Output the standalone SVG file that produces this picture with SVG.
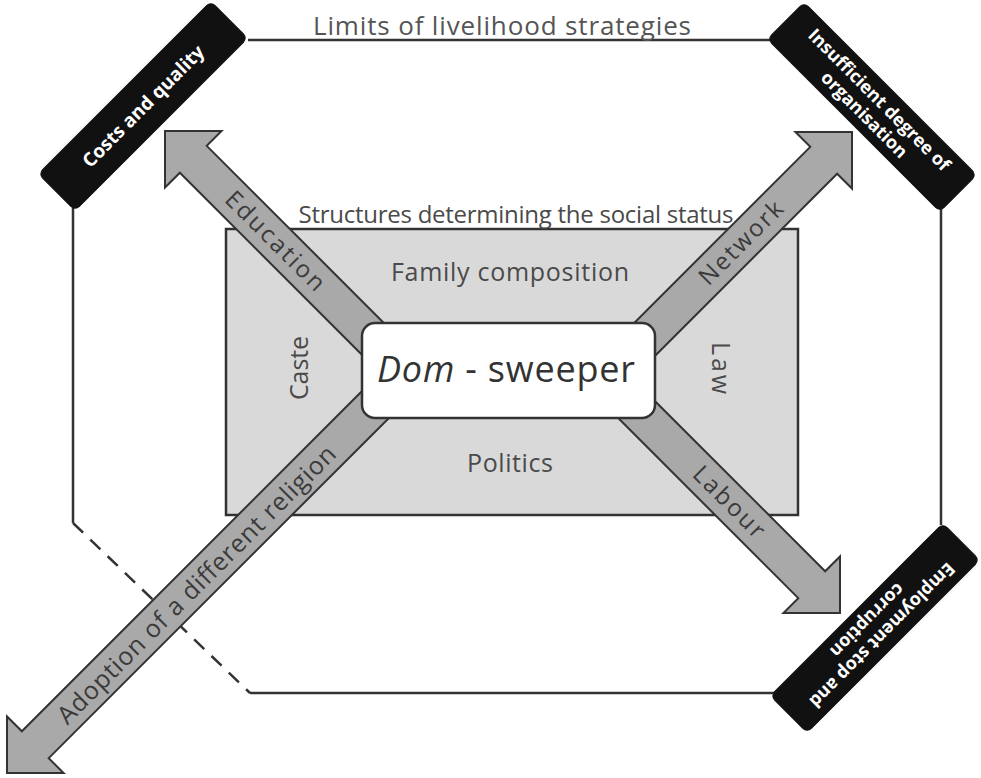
<svg xmlns="http://www.w3.org/2000/svg" width="981" height="778" viewBox="0 0 981 778">
<defs>
<style>
.frame{fill:none;stroke:#333;stroke-width:2.5}
.dash{fill:none;stroke:#333;stroke-width:2.5;stroke-dasharray:14 10}
.arrow{fill:#a9a9a9;stroke:#333;stroke-width:2;stroke-linejoin:miter}
.blk{fill:#111;stroke:#111;stroke-width:1}
.wt{fill:#fff;font-family:"Open Sans","Liberation Sans",sans-serif;font-weight:bold;font-size:19px;text-anchor:middle}
.gt{fill:#4a4a4a;font-family:"Open Sans","Liberation Sans",sans-serif;font-size:25px;text-anchor:middle}
.at{fill:#3a3a3a;font-family:"Open Sans","Liberation Sans",sans-serif;font-size:24px;text-anchor:middle}
</style>
</defs>
<rect width="981" height="778" fill="#fff"/>

<g id="connectors">
<path class="frame" d="M248,40 H770"/>
<path class="frame" d="M73,208 V523"/>
<path class="dash" d="M73,523 L250,693"/>
<path class="frame" d="M250,693 H775"/>
<path class="frame" d="M941,209 V525"/>
</g>
<text class="gt" x="502" y="35" textLength="378" lengthAdjust="spacing" style="fill:#555;font-size:26px">Limits of livelihood strategies</text>

<g id="structures">
<rect x="226" y="229" width="572" height="286" fill="#d9d9d9" stroke="#333" stroke-width="2.5"/>
<text class="gt" x="516" y="223" textLength="435" lengthAdjust="spacing" style="font-size:24px">Structures determining the social status</text>
<text class="gt" x="510" y="281" textLength="238" lengthAdjust="spacing">Family composition</text>
<text class="gt" x="510" y="472" textLength="86" lengthAdjust="spacing">Politics</text>
<text class="gt" transform="translate(308,368) rotate(-90)" textLength="64" lengthAdjust="spacing">Caste</text>
<text class="gt" transform="translate(712,368) rotate(90)" textLength="52" lengthAdjust="spacing">Law</text>
</g>

<g id="arrow-education">
<polygon class="arrow" transform="translate(165,131) rotate(225)" points="0,0 -40,-40 -40,-19 -300,-19 -300,19 -40,19 -40,40"/>
<text class="at" transform="translate(275,241) rotate(45)" y="8" textLength="130" lengthAdjust="spacing">Education</text>
</g>
<g id="arrow-network">
<polygon class="arrow" transform="translate(852,132) rotate(-45)" points="0,0 -40,-40 -40,-19 -300,-19 -300,19 -40,19 -40,40"/>
<text class="at" transform="translate(741,243) rotate(-45)" y="8" textLength="108" lengthAdjust="spacing">Network</text>
</g>
<g id="arrow-labour">
<polygon class="arrow" transform="translate(840,613) rotate(45)" points="0,0 -40,-40 -40,-19 -300,-19 -300,19 -40,19 -40,40"/>
<text class="at" transform="translate(729,502) rotate(45)" y="8" textLength="91" lengthAdjust="spacing">Labour</text>
</g>
<g id="arrow-religion">
<polygon class="arrow" transform="translate(7,773) rotate(135)" points="0,0 -40,-40 -40,-19 -535,-19 -535,19 -40,19 -40,40"/>
<text class="at" transform="translate(197,585) rotate(-45)" y="8" textLength="382" lengthAdjust="spacing" style="font-size:25px">Adoption of a different religion</text>
</g>

<g id="dom-sweeper">
<rect x="362" y="323" width="293" height="95" rx="13" fill="#fff" stroke="#333" stroke-width="2.5"/>
<text x="506" y="382" font-family="'Open Sans','Liberation Sans',sans-serif" font-size="36" fill="#333" text-anchor="middle" textLength="258" lengthAdjust="spacing"><tspan font-style="italic">Dom</tspan> - sweeper</text>
</g>

<g id="costs-quality">
<rect class="blk" x="-122" y="-26" width="244" height="52" rx="6" transform="translate(143,106) rotate(-45)"/>
<text class="wt" transform="translate(143,106) rotate(-45)" y="7">Costs and quality</text>
</g>
<g id="insufficient-organisation">
<rect class="blk" x="-122" y="-26" width="244" height="52" rx="6" transform="translate(872,107) rotate(45)"/>
<text class="wt" transform="translate(872,107) rotate(45)" style="font-size:18px"><tspan x="0" y="-4">Insufficient degree of</tspan><tspan x="0" y="17">organisation</tspan></text>
</g>
<g id="employment-corruption">
<rect class="blk" x="-122" y="-26" width="244" height="52" rx="6" transform="translate(875,628) rotate(-45)"/>
<text class="wt" transform="translate(875,628) rotate(135)" style="font-size:18px"><tspan x="0" y="-4">Employment stop and</tspan><tspan x="0" y="17">corruption</tspan></text>
</g>
</svg>
